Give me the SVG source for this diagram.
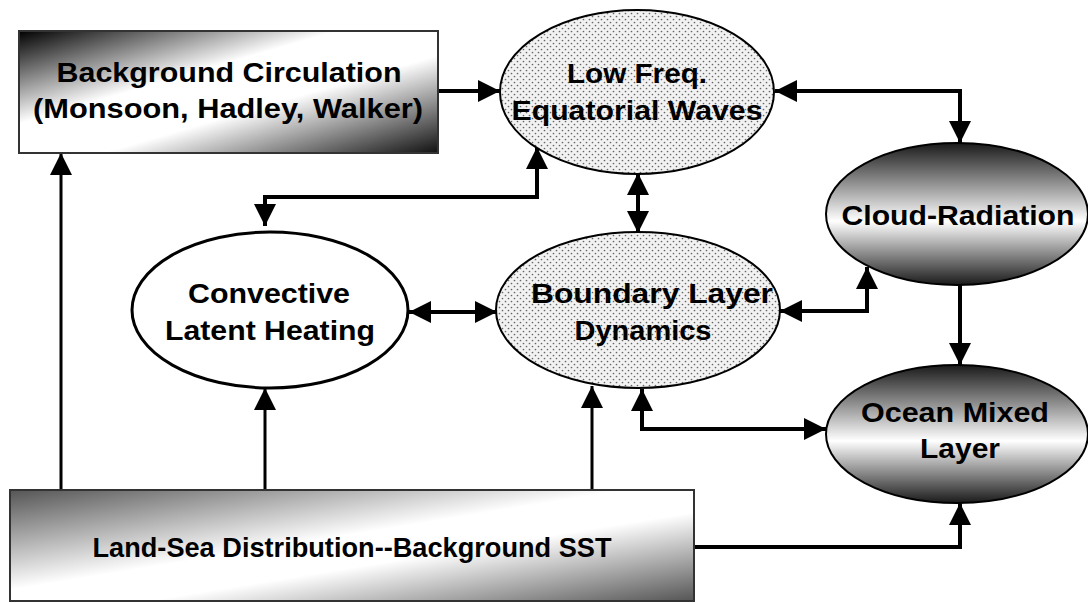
<svg xmlns="http://www.w3.org/2000/svg" width="1088" height="603" viewBox="0 0 1088 603">
<defs>
<style>
.t{font-family:"Liberation Sans",Arial,sans-serif;font-weight:bold;font-size:27.5px;fill:#000;text-anchor:middle}
.c{fill:none;stroke:#000;stroke-width:4;marker-end:url(#ah)}
.d{marker-start:url(#ah)}
.thin{stroke-width:3}
</style>
<marker id="ah" markerUnits="userSpaceOnUse" markerWidth="24" markerHeight="24" refX="22" refY="11" orient="auto-start-reverse" viewBox="0 0 24 24">
<path d="M0,0 L22,11 L0,22 z" fill="#000"/>
</marker>
<pattern id="dots" width="6" height="6" patternUnits="userSpaceOnUse">
<rect width="6" height="6" fill="#f2f2f2"/>
<circle cx="1.5" cy="1.5" r="0.85" fill="#666"/>
<circle cx="4.5" cy="4.5" r="0.85" fill="#666"/>
</pattern>
<linearGradient id="gBC" x1="0" y1="0" x2="1" y2="1">
<stop offset="0" stop-color="#000"/>
<stop offset="0.38" stop-color="#fff"/>
<stop offset="0.6" stop-color="#fff"/>
<stop offset="1" stop-color="#111"/>
</linearGradient>
<linearGradient id="gLS" x1="0" y1="0" x2="1" y2="1">
<stop offset="0" stop-color="#555"/>
<stop offset="0.45" stop-color="#fff"/>
<stop offset="0.6" stop-color="#fff"/>
<stop offset="1" stop-color="#555"/>
</linearGradient>
<linearGradient id="gV" x1="0" y1="0" x2="0" y2="1">
<stop offset="0" stop-color="#1a1a1a"/>
<stop offset="0.55" stop-color="#fff"/>
<stop offset="1" stop-color="#1a1a1a"/>
</linearGradient>
</defs>
<rect width="1088" height="603" fill="#fff"/>

<g id="connectors">
<path class="c" d="M438,91 L500,91"/>
<path class="c d" d="M775,91 L960,91 L960,143"/>
<path class="c" d="M960,285 L960,365"/>
<path class="c d" d="M638,173 L638,233"/>
<path class="c d" d="M537,147 L537,197 L265,197 L265,226"/>
<path class="c d" d="M409,312 L497,312"/>
<path class="c d" d="M780,311 L867,311 L867,267"/>
<path class="c d" d="M642,389 L642,429 L826,429"/>
<path class="c thin" d="M61,490 L61,153"/>
<path class="c thin" d="M265,490 L265,388"/>
<path class="c thin" d="M592,490 L592,386"/>
<path class="c" d="M694,547 L960,547 L960,503"/>
</g>

<g id="background-circulation">
<rect x="19" y="31" width="419" height="122" fill="url(#gBC)" stroke="#333" stroke-width="2"/>
<text class="t" x="229" y="82" textLength="345" lengthAdjust="spacingAndGlyphs">Background Circulation</text>
<text class="t" x="228" y="118" textLength="390" lengthAdjust="spacingAndGlyphs">(Monsoon, Hadley, Walker)</text>
</g>

<g id="low-freq-waves">
<ellipse cx="637" cy="92" rx="137" ry="82" fill="url(#dots)" stroke="#000" stroke-width="2"/>
<text class="t" x="637" y="83" textLength="140" lengthAdjust="spacingAndGlyphs">Low Freq.</text>
<text class="t" x="637" y="120" textLength="251" lengthAdjust="spacingAndGlyphs">Equatorial Waves</text>
</g>

<g id="cloud-radiation">
<ellipse cx="957" cy="214" rx="131" ry="71" fill="url(#gV)" stroke="#000" stroke-width="2"/>
<text class="t" x="958" y="225" textLength="233" lengthAdjust="spacingAndGlyphs">Cloud-Radiation</text>
</g>

<g id="convective-heating">
<ellipse cx="270" cy="310" rx="138" ry="78" fill="#fff" stroke="#000" stroke-width="3"/>
<text class="t" x="269" y="303" textLength="162" lengthAdjust="spacingAndGlyphs">Convective</text>
<text class="t" x="270" y="340" textLength="210" lengthAdjust="spacingAndGlyphs">Latent Heating</text>
</g>

<g id="boundary-layer">
<ellipse cx="638" cy="310" rx="142" ry="78" fill="url(#dots)" stroke="#000" stroke-width="2"/>
<text class="t" x="652" y="303" textLength="242" lengthAdjust="spacingAndGlyphs">Boundary Layer</text>
<text class="t" x="643" y="340" textLength="137" lengthAdjust="spacingAndGlyphs">Dynamics</text>
</g>

<g id="ocean-mixed-layer">
<ellipse cx="957" cy="434" rx="131" ry="69" fill="url(#gV)" stroke="#000" stroke-width="2"/>
<text class="t" x="955" y="422" textLength="188" lengthAdjust="spacingAndGlyphs">Ocean Mixed</text>
<text class="t" x="960" y="458" textLength="80" lengthAdjust="spacingAndGlyphs">Layer</text>
</g>

<g id="land-sea">
<rect x="10" y="490" width="684" height="111" fill="url(#gLS)" stroke="#333" stroke-width="2"/>
<text class="t" x="352" y="557" textLength="519" lengthAdjust="spacingAndGlyphs">Land-Sea Distribution--Background SST</text>
</g>
</svg>
